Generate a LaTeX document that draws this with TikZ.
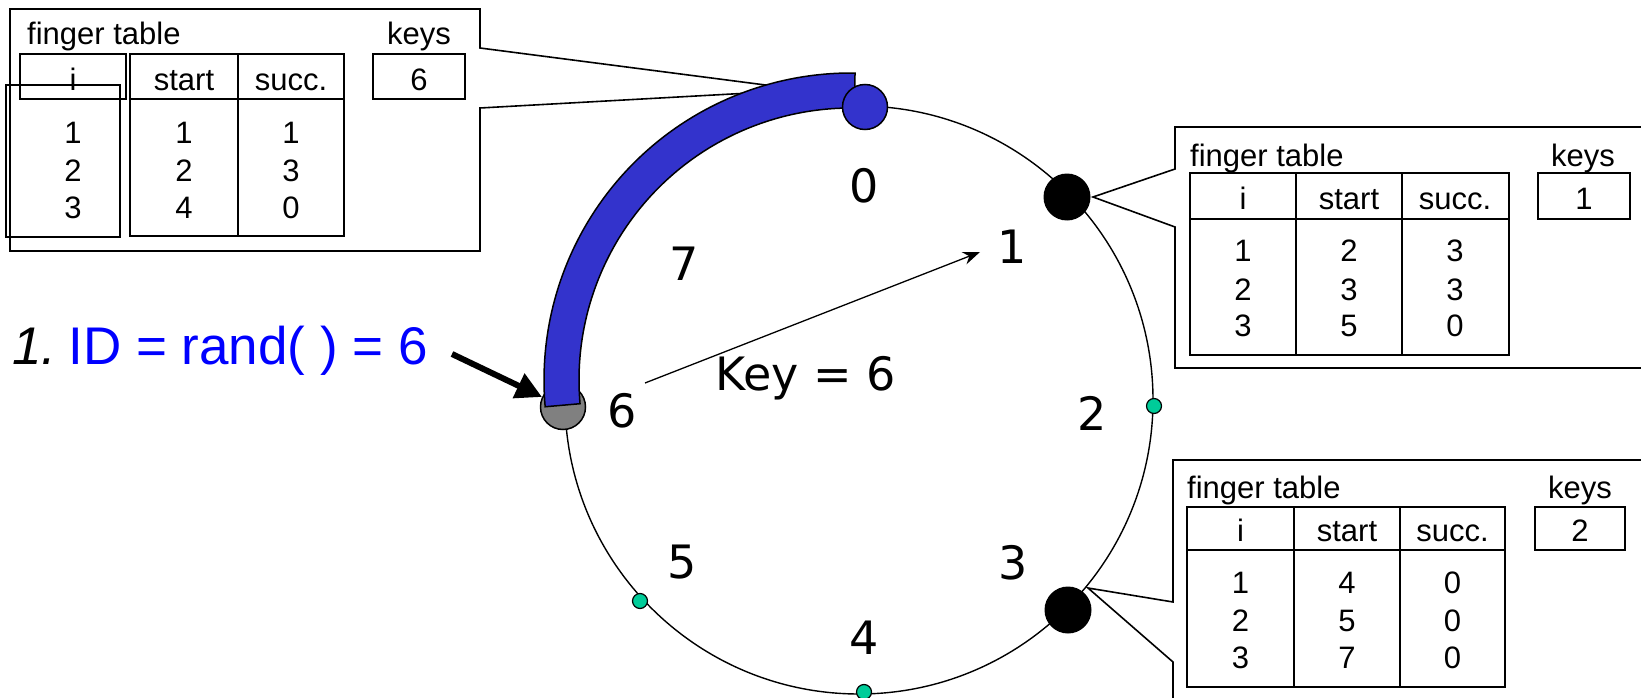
\documentclass[tikz,border=0pt]{standalone}
\usepackage{fontspec}
\setmainfont{Liberation Sans}
\newfontfamily\ringfamily{DejaVu Sans}
\usetikzlibrary{arrows.meta}
\definecolor{bandblue}{HTML}{3333CC}
\definecolor{dotgreen}{HTML}{00CC99}
\definecolor{idblue}{HTML}{0000FF}
\definecolor{nodegray}{HTML}{808080}
\begin{document}
\begin{tikzpicture}[x=1pt,y=1pt,
  box/.style={draw,line width=1.7pt},
  thinbox/.style={draw,line width=1.3pt},
  callout/.style={draw,fill=white,line width=1.6pt,line join=miter},
  tt/.style={anchor=base,inner sep=0pt,font=\fontsize{31}{37}\selectfont},
  ttl/.style={anchor=base west,inner sep=0pt,font=\fontsize{31}{37}\selectfont},
  lbl/.style={inner sep=0pt,font=\ringfamily\fontsize{46}{55}\selectfont},
  ring/.style={draw,line width=1.4pt},
  bignode/.style={circle,draw,line width=1.5pt,minimum size=45pt,inner sep=0pt},
  blacknode/.style={circle,fill=black,minimum size=47pt,inner sep=0pt},
  smalldot/.style={circle,draw,fill=dotgreen,line width=1.2pt,minimum size=15pt,inner sep=0pt},
  band/.style={draw,fill=bandblue,line width=1.5pt,line join=miter},
  keyarrow/.style={line width=1.3pt,-{Stealth[length=17pt,width=13pt]}},
  bigarrow/.style={line width=6pt,-{Triangle[length=26pt,width=26pt]}},
]
\useasboundingbox (0,0) rectangle (1641,-698);
\clip (0,0) rectangle (1641,-698);

% ---------- callout boxes ----------
\coordinate (tlTip) at (804,-90);
\draw[callout] (10,-9) -- (480,-9) -- (480,-48) -- (tlTip) -- (480,-108) -- (480,-251) -- (10,-251) -- cycle;
\coordinate (r1Tip) at (1093,-197);
\draw[callout] (1175,-127) -- (1660,-127) -- (1660,-368) -- (1175,-368) -- (1175,-227) -- (r1Tip) -- (1175,-169) -- cycle;
\coordinate (r3Tip) at (1088,-588);
\draw[callout] (1173,-460) -- (1660,-460) -- (1660,-720) -- (1173,-720) -- (1173,-662) -- (r3Tip) -- (1173,-602) -- cycle;

% ---------- top-left finger table (node 0) ----------
\node[ttl] (tlTitle) at (27,-45) {finger table};
\node[tt] (tlKeys) at (419,-45) {keys};
\draw[box] (20,-54) rectangle (126,-99);
\draw[box] (130,-54) rectangle (344,-99);
\draw[box] (130,-99) rectangle (344,-236);
\draw[box] (238,-54) -- (238,-236);
\draw[thinbox] (6,-85) rectangle (120,-237);
\draw[box] (373,-54) rectangle (465,-99);
\node[tt] (tlHi) at (73,-90.7) {i};
\node[tt] (tlHs) at (184,-90.7) {start};
\node[tt] (tlHc) at (291,-90.7) {succ.};
\node[tt] (tlK) at (419,-90.7) {6};
\foreach \a/\b/\c/\y [count=\k] in {1/1/1/143.3, 2/2/3/181.7, 3/4/0/218.3} {
  \node[tt] (tli\k) at (73,-\y) {\a};
  \node[tt] (tls\k) at (184,-\y) {\b};
  \node[tt] (tlc\k) at (291,-\y) {\c};
}

% ---------- right finger table (node 1) ----------
\node[ttl] (aTitle) at (1190,-166.7) {finger table};
\node[tt] (aKeys) at (1583,-166.7) {keys};
\draw[box] (1190,-173) rectangle (1509,-219);
\draw[box] (1190,-219) rectangle (1509,-355);
\draw[box] (1296,-173) -- (1296,-355);
\draw[box] (1402,-173) -- (1402,-355);
\draw[box] (1538,-173) rectangle (1630,-219);
\node[tt] (aHi) at (1243,-209.3) {i};
\node[tt] (aHs) at (1349,-209.3) {start};
\node[tt] (aHc) at (1455,-209.3) {succ.};
\node[tt] (aK) at (1584,-209.3) {1};
\foreach \a/\b/\c/\y [count=\k] in {1/2/3/261.7, 2/3/3/300, 3/5/0/336.7} {
  \node[tt] (ai\k) at (1243,-\y) {\a};
  \node[tt] (as\k) at (1349,-\y) {\b};
  \node[tt] (ac\k) at (1455,-\y) {\c};
}

% ---------- right finger table (node 3) ----------
\node[ttl] (bTitle) at (1187,-498) {finger table};
\node[tt] (bKeys) at (1580,-498) {keys};
\draw[box] (1187,-507) rectangle (1505,-550);
\draw[box] (1187,-550) rectangle (1505,-687);
\draw[box] (1294,-507) -- (1294,-687);
\draw[box] (1400,-507) -- (1400,-687);
\draw[box] (1535,-507) rectangle (1625,-550);
\node[tt] (bHi) at (1240.5,-541.7) {i};
\node[tt] (bHs) at (1347,-541.7) {start};
\node[tt] (bHc) at (1452.5,-541.7) {succ.};
\node[tt] (bK) at (1580,-541.7) {2};
\foreach \a/\b/\c/\y [count=\k] in {1/4/0/593.3, 2/5/0/631.7, 3/7/0/668.3} {
  \node[tt] (bi\k) at (1240.5,-\y) {\a};
  \node[tt] (bs\k) at (1347,-\y) {\b};
  \node[tt] (bc\k) at (1452.5,-\y) {\c};
}

% ---------- ring ----------
\draw[ring] (859,-400) circle[radius=294];
\node[blacknode] (n1) at (1067,-197) {};
\node[smalldot] (n2) at (1154,-406) {};
\node[blacknode] (n3) at (1068,-610) {};
\node[smalldot] (n4) at (864,-692) {};
\node[smalldot] (n5) at (640,-601) {};
\node[bignode,fill=nodegray] (n6) at (563,-407) {};

% blue band from 6 to 0
\draw[band] (851,-380) ++(89.25:307) arc[start angle=89.25,end angle=185,radius=307]
  -- ++(5:35) arc[start angle=185,end angle=89.25,radius=272] -- cycle;
\node[bignode,fill=bandblue] (n0) at (865,-107) {};

% ring labels
\node[lbl] (l0) at (864,-186) {0};
\node[lbl] (l1) at (1012,-247) {1};
\node[lbl] (l2) at (1092,-413) {2};
\node[lbl] (l3) at (1013,-563) {3};
\node[lbl] (l4) at (864,-638) {4};
\node[lbl] (l5) at (682,-562) {5};
\node[lbl] (l6) at (622,-411) {6};
\node[lbl] (l7) at (684,-264) {7};
\node[lbl,anchor=base west] (keyl) at (715,-390) {Key = 6};

% key arrow
\coordinate (kA) at (645,-383);
\coordinate (kB) at (980,-252);
\draw[keyarrow] (kA) -- (kB);

% ID text and arrow
\node[anchor=base west,inner sep=0pt,font=\fontsize{53}{60}\selectfont] (idtxt) at (12,-364)
  {\textit{1.}\hspace{12pt}\textcolor{idblue}{ID = rand( ) = 6}};
\coordinate (idA) at (452,-354);
\draw[bigarrow] (idA) -- (n6);
\end{tikzpicture}
\end{document}
